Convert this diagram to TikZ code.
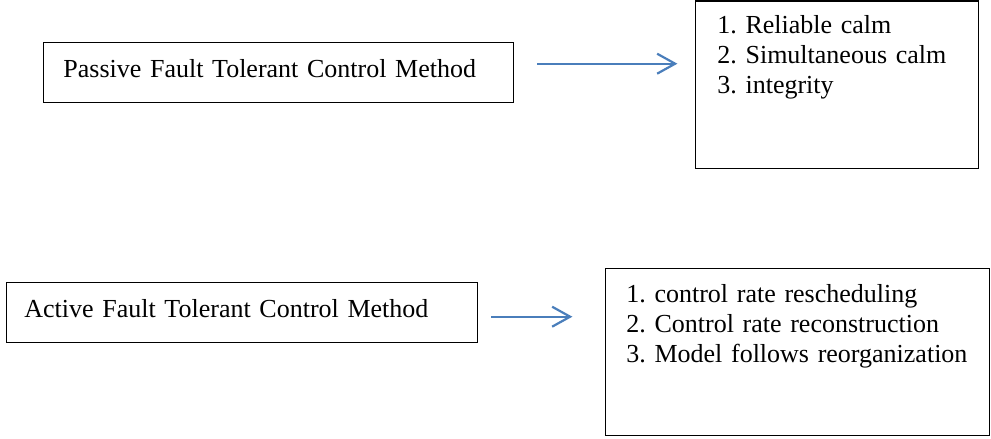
\documentclass[tikz,border=0pt]{standalone}
\usepackage{fontspec}
\setmainfont{Liberation Serif}
\usepackage{xcolor}
\usepackage{tikz}
\usetikzlibrary{arrows.meta,positioning,calc}
\definecolor{arrblue}{RGB}{74,126,187}
\frenchspacing

\begin{document}
\begin{tikzpicture}[x=0.5pt, y=-0.5pt, font=\fontsize{13}{15}\selectfont, box/.style={draw, line width=0.7pt, anchor=north west, inner sep=0pt, minimum height=30pt}, listbox/.style={box, minimum height=83.5pt}, txt/.style={anchor=base west, inner sep=0pt, text width=400pt, align=left}, arr/.style={-{Straight Barb[length=9pt, width=10pt]}, line width=1.1pt, arrblue}]
\useasboundingbox (0,0) rectangle (991,439);
\node[box, minimum width=235pt] (passive) at (43,42) {};
\node[txt] (passivetxt) at ([xshift=10pt, yshift=-17.5pt]passive.north west) {Passive Fault Tolerant Control Method};
\node[listbox, minimum width=141.5pt] (passlist) at (695,0.5) {};
\node[txt] (passlisttxt) at ([xshift=11pt, yshift=-16.5pt]passlist.north west) {1. Reliable calm\\2. Simultaneous calm\\3. integrity};
\node[box, minimum width=235.5pt] (active) at (6,282) {};
\node[txt] (activetxt) at ([xshift=9pt, yshift=-17.5pt]active.north west) {Active Fault Tolerant Control Method};
\node[listbox, minimum width=192pt] (actlist) at (605,268) {};
\node[txt] (actlisttxt) at ([xshift=10.5pt, yshift=-17pt]actlist.north west) {1. control rate rescheduling\\2. Control rate reconstruction\\3. Model follows reorganization};
\draw[arr] ([xshift=11.5pt, yshift=4.5pt]passive.east) -- ++(140,0);
\draw[arr] ([xshift=6.5pt, yshift=-2pt]active.east) -- ++(81,0);
\end{tikzpicture}
\end{document}
